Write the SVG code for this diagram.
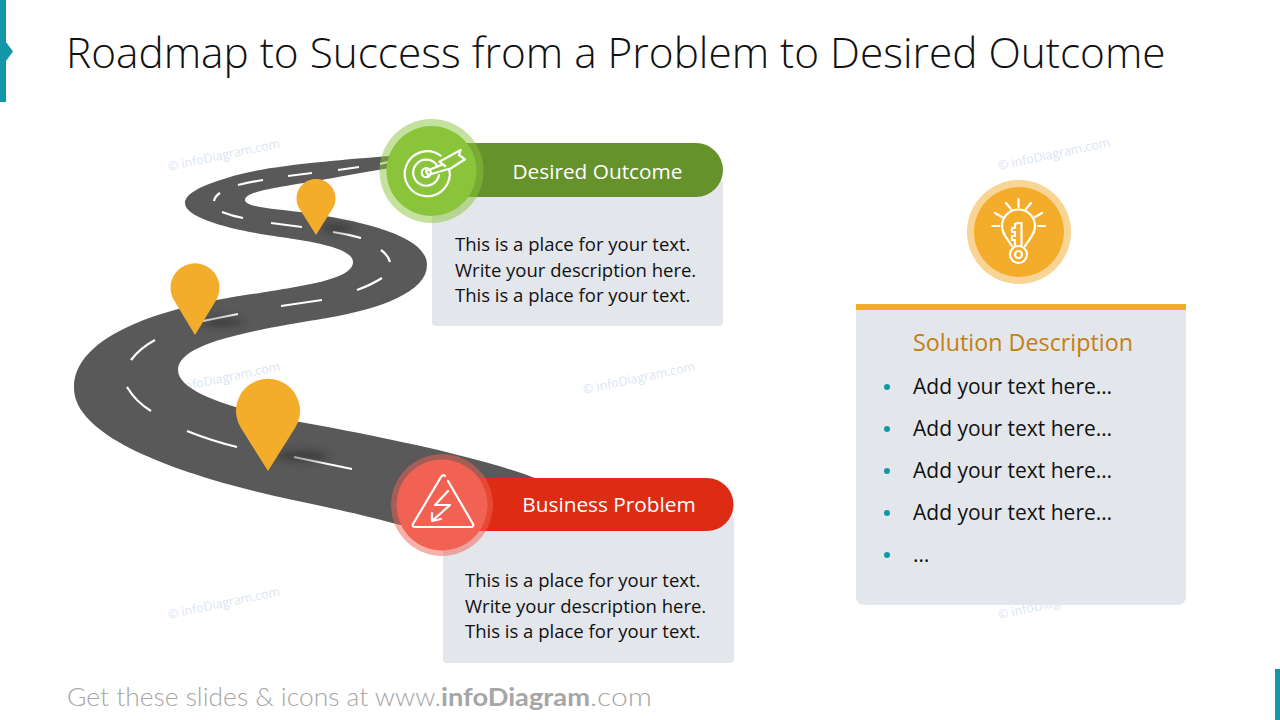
<svg xmlns="http://www.w3.org/2000/svg" width="1280" height="720" viewBox="0 0 1280 720">
<style>
text{font-family:"Open Sans","Noto Sans","Liberation Sans",sans-serif}
.wm{font-size:12.5px;fill:#dbe5f3}
.body{font-size:18.5px;fill:#111}
.li{font-size:21px;fill:#111}
.lbl{font-size:20.800px;fill:#fff;text-anchor:middle}
.dash{fill:none;stroke:#fff;stroke-width:2.2}
.ic{fill:none;stroke:#fff;stroke-width:2.2;stroke-linecap:round;stroke-linejoin:round}
.bul{fill:#1496a9}
.box{fill:#e3e6eb}
.pin{fill:#f4ac2b}
.sh{fill:#222;opacity:.55;filter:url(#b)}
</style>
<defs><filter id="b" x="-50%" y="-150%" width="200%" height="400%"><feGaussianBlur stdDeviation="4"/></filter></defs>
<rect width="1280" height="720" fill="#fff"/>
<g id="chrome">
<rect x="0" y="0" width="6" height="102" fill="#1496a9"/>
<path d="M6 42L13 51.500L6 61Z" fill="#1496a9"/>
<rect x="1275" y="669" width="5" height="51" fill="#1496a9"/>
</g>
<text x="66" y="68" font-size="42.350" fill="#111" style="font-weight:300">Roadmap to Success from a Problem to Desired Outcome</text>
<g id="watermarks">
<text class="wm" transform="translate(169 171) rotate(-12)">© infoDiagram.com</text>
<text class="wm" transform="translate(999 170) rotate(-12)">© infoDiagram.com</text>
<text class="wm" transform="translate(584 394) rotate(-12)">© infoDiagram.com</text>
<text class="wm" transform="translate(169 394) rotate(-12)">© infoDiagram.com</text>
<text class="wm" transform="translate(169 619) rotate(-12)">© infoDiagram.com</text>
<text class="wm" transform="translate(999 619) rotate(-12)">© infoDiagram.com</text>
</g>
<g id="road">
<path fill="#595959" d="M390 156C340 160 260 166 227 178C200 186 185 194 185 203C185 218 230 229 267 235C300 240 353 246 353 262C353 280 300 286 260 293C200 301 74 325 74 388C74 440 190 478 293 500C330 508 360 514 400 525L500 525L540 480C490 460 400 440 300 422C250 413 178 395 178 370C178 345 240 332 327 318C380 309 427 292 427 265C427 235 360 221 307 213C280 209 245 208 245 200C245 190 290 186 333 178C350 175 370 171 390 168Z"/>
<path class="dash" d="M238 185Q250 182 263 180M288 176L312 173M338 170L359 167M380 164L388 162M220 193Q215 196 214 201M222 212Q232 216 243 218M271 223L302 227M333 232Q347 234 361 238M381 250Q388 255 390 262M382 278Q371 285 357 290M322 300L281 306M238 314L203 321M155 340Q140 348 131 360M127 387Q136 402 151 411M187 431Q212 441 237 447M294 457L352 469"/>
</g>
<g id="pin-small">
<ellipse class="sh" cx="337" cy="228" rx="17" ry="4"/>
<path class="pin" d="M316 235L300 209.600A19.500 19.500 0 1 1 332 209.600Z"/>
</g>
<g id="pin-medium">
<ellipse class="sh" cx="222" cy="322" rx="22" ry="4"/>
<path class="pin" d="M195 335L175 302A24.500 24.500 0 1 1 215 302Z"/>
</g>
<g id="pin-large">
<ellipse class="sh" cx="302" cy="456" rx="26" ry="5"/>
<path class="pin" d="M268 471L241 428A32 32 0 1 1 295 428Z"/>
</g>
<g id="desired-outcome">
<rect class="box" x="432" y="180" width="291" height="146" rx="4"/>
<path fill="#66922b" d="M431 143H696A27 27 0 0 1 696 197H431Z"/>
<circle cx="431.500" cy="171" r="52" fill="#8ac43b" opacity=".5"/>
<circle cx="431.500" cy="171" r="45" fill="#8ac43b"/>
<path class="ic" d="M440.700 155.700A22.500 22.500 0 1 0 449.300 169.300M436.700 165A13 13 0 1 0 439 175"/>
<circle class="ic" cx="426.300" cy="172.700" r="4.500"/>
<path class="ic" d="M441.500 165L426 171L428 175L451 168.300L465 159.300L459 155L460.700 150L439.300 161.700L445 166"/>
<text class="lbl" x="597.500" y="179">Desired Outcome</text>
<text class="body"><tspan x="455" y="251">This is a place for your text.</tspan><tspan x="455" y="277">Write your description here.</tspan><tspan x="455" y="302">This is a place for your text.</tspan></text>
</g>
<g id="business-problem">
<rect class="box" x="443" y="515" width="291" height="148" rx="4"/>
<path fill="#de2c14" d="M442 478H707A26.500 26.500 0 0 1 707 531H442Z"/>
<circle cx="442" cy="505" r="51" fill="#f16253" opacity=".5"/>
<circle cx="442" cy="505" r="45.500" fill="#f16253"/>
<path class="ic" d="M445 476Q443 474 441 477L413 524Q412 527 415 527H471Q474 527 473 524L448 481"/>
<path class="ic" d="M448 491L435 505H450L432 521M432 513L432 521L441 519"/>
<text class="lbl" x="609" y="512">Business Problem</text>
<text class="body"><tspan x="465" y="587">This is a place for your text.</tspan><tspan x="465" y="613">Write your description here.</tspan><tspan x="465" y="638">This is a place for your text.</tspan></text>
</g>
<g id="solution">
<circle cx="1019" cy="232" r="52" fill="#f4ac2b" opacity=".5"/>
<circle cx="1019" cy="232" r="45" fill="#f4ac2b"/>
<path class="ic" d="M1012 246C1007 238 1002 234 1002 226A16.500 16.500 0 0 1 1035 226C1035 234 1030 238 1025 246"/>
<circle class="ic" cx="1018.500" cy="254.500" r="8.500"/>
<circle class="ic" cx="1018.500" cy="254.500" r="3.500"/>
<path class="ic" d="M1015 246V240H1012V236H1015V232H1012V228H1015V224L1018 223H1021.500V246"/>
<path class="ic" d="M1018.500 199V207M1006 203L1011 209M1031 203L1026 209M995 213L1002 217M1042 213L1035 217M992.500 226H999.500M1038 226H1045"/>
<path class="box" d="M856 304H1186V597A8 8 0 0 1 1178 605H864A8 8 0 0 1 856 597Z"/>
<rect x="856" y="304" width="330" height="6" fill="#f4ac2b"/>
<text x="1023" y="351" font-size="23.300" fill="#c47f12" text-anchor="middle">Solution Description</text>
<text class="li" x="913" y="394">Add your text here…</text>
<text class="li" x="913" y="436">Add your text here…</text>
<text class="li" x="913" y="478">Add your text here…</text>
<text class="li" x="913" y="520">Add your text here…</text>
<text class="li" x="913" y="562">…</text>
<circle class="bul" cx="887" cy="387" r="3"/>
<circle class="bul" cx="887" cy="429" r="3"/>
<circle class="bul" cx="887" cy="471" r="3"/>
<circle class="bul" cx="887" cy="513" r="3"/>
<circle class="bul" cx="887" cy="555" r="3"/>
</g>
<text id="footer" y="706" font-size="25" fill="#a6a6a6" style="font-family:Lato,'Open Sans',sans-serif;font-weight:300"><tspan x="67" textLength="374" lengthAdjust="spacingAndGlyphs">Get these slides &amp; icons at www.</tspan><tspan x="441" font-weight="700" textLength="149" lengthAdjust="spacingAndGlyphs">infoDiagram</tspan><tspan x="590" textLength="62" lengthAdjust="spacingAndGlyphs">.com</tspan></text>
</svg>
